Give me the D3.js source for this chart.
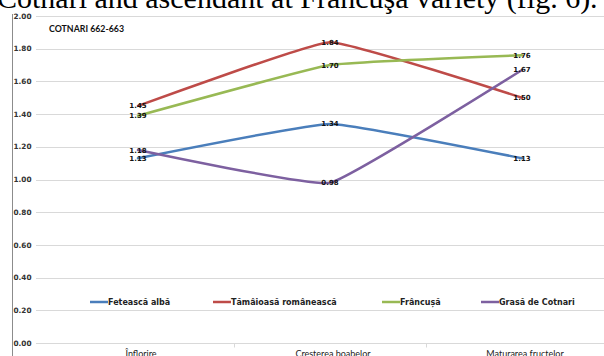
<!DOCTYPE html>
<html>
<head>
<meta charset="utf-8">
<script src="https://cdn.jsdelivr.net/npm/d3@7"></script>
<style>
  html, body { margin: 0; padding: 0; background: #fff; }
  svg { display: block; }
</style>
</head>
<body>
<svg id="chart" width="604" height="356"></svg>
<script>
// Growth stages (x categories)
const stages = ["Înflorire", "Cresterea boabelor", "Maturarea fructelor"];

// Series names and values per stage
const seriesNames = ["Fetească albă", "Tămâioasă românească", "Frâncușă", "Grasă de Cotnari"];
const feteascaAlba = [1.13, 1.34, 1.13];
const tamaioasa = [1.45, 1.84, 1.50];
const francusa = [1.39, 1.70, 1.76];
const grasa = [1.18, 0.98, 1.67];

// Y axis ticks
const yTicks = [0, 0.2, 0.4, 0.6, 0.8, 1.0, 1.2, 1.4, 1.6, 1.8, 2.0];

const colors = ["#4a7ebb", "#be4b48", "#98b954", "#7d60a0"];
const seriesValues = [feteascaAlba, tamaioasa, francusa, grasa];

const svg = d3.select("#chart");
const W = 604, H = 356;

// Caption line of the surrounding text, mostly above the visible area
svg.append("text")
  .attr("x", -3).attr("y", 8)
  .attr("font-family", "'Liberation Serif', 'Times New Roman', serif")
  .attr("font-size", 30)
  .attr("fill", "#000")
  .text("Cotnari and ascendant at Francuşa variety (fig. 6).");

// Chart frame (left edge)
svg.append("line")
  .attr("x1", 12.5).attr("x2", 12.5)
  .attr("y1", 14).attr("y2", H)
  .attr("stroke", "#8c8c8c").attr("stroke-width", 1);

const x = d3.scaleBand().domain(stages).range([42, 618]).padding(0);
const y = d3.scaleLinear().domain([0, 2]).range([343, 16]);

// Horizontal gridlines with small tick stubs
svg.append("g").selectAll("line")
  .data(yTicks.slice(1))
  .join("line")
  .attr("x1", 36).attr("x2", W)
  .attr("y1", d => Math.round(y(d)) + 0.5)
  .attr("y2", d => Math.round(y(d)) + 0.5)
  .attr("stroke", "#d9d9d9").attr("stroke-width", 1);

// Y axis labels
svg.append("g").selectAll("text")
  .data(yTicks)
  .join("text")
  .attr("x", 13.5)
  .attr("y", d => y(d) + 2.6)
  .attr("font-family", "'DejaVu Sans', Verdana, sans-serif")
  .attr("font-weight", "bold")
  .attr("font-size", 7.3)
  .attr("fill", "#333")
  .text(d => d.toFixed(2));

// X axis line with category dividers
const gx = svg.append("g").attr("transform", `translate(0,${Math.round(y(0)) + 0.5})`);
gx.append("line").attr("x1", 36).attr("x2", W).attr("stroke", "#d9d9d9");
gx.selectAll("line.div")
  .data(stages.slice(1))
  .join("line")
  .attr("class", "div")
  .attr("x1", d => Math.round(x(d)) + 0.5)
  .attr("x2", d => Math.round(x(d)) + 0.5)
  .attr("y1", 0).attr("y2", 4)
  .attr("stroke", "#d9d9d9");
gx.selectAll("text")
  .data(stages)
  .join("text")
  .attr("x", d => x(d) + x.bandwidth() / 2 + 3)
  .attr("y", 13)
  .attr("text-anchor", "middle")
  .attr("font-family", "Lato, 'Open Sans', sans-serif")
  .attr("font-size", 9)
  .attr("fill", "#222")
  .text(d => d);

// Chart title
svg.append("text")
  .attr("x", 49).attr("y", 32)
  .attr("font-family", "Lato, 'Open Sans', sans-serif")
  .attr("font-weight", "bold")
  .attr("font-size", 8.8)
  .attr("fill", "#111")
  .text("COTNARI 662-663");

// Lightly smoothed series lines
const line = d3.line()
  .x((d, i) => x(stages[i]) + x.bandwidth() / 2)
  .y(d => y(d))
  .curve(d3.curveCardinal.tension(0.7));

svg.append("g").selectAll("path")
  .data(seriesValues)
  .join("path")
  .attr("d", d => line(d))
  .attr("fill", "none")
  .attr("stroke", (d, i) => colors[i])
  .attr("stroke-width", 2.5)
  .attr("stroke-linecap", "round");

// Value labels centred on points
const labels = [];
seriesValues.forEach((vals, s) => vals.forEach((v, i) => labels.push({ s, i, v })));
svg.append("g").selectAll("text")
  .data(labels)
  .join("text")
  .attr("x", d => x(stages[d.i]) + x.bandwidth() / 2)
  .attr("y", d => y(d.v) + 2.5)
  .attr("text-anchor", "middle")
  .attr("font-family", "'DejaVu Sans', Verdana, sans-serif")
  .attr("font-weight", "bold")
  .attr("font-size", 7)
  .attr("fill", "#111")
  .text(d => d.v.toFixed(2));

// Legend
const legendX = [90, 213, 382, 481];
const lg = svg.append("g").attr("transform", "translate(0,302)");
const items = lg.selectAll("g").data(seriesNames).join("g")
  .attr("transform", (d, i) => `translate(${legendX[i]},0)`);
items.append("line")
  .attr("x1", 0).attr("x2", 18).attr("y1", 0).attr("y2", 0)
  .attr("stroke", (d, i) => colors[i]).attr("stroke-width", 2.5);
items.append("text")
  .attr("x", 18).attr("y", 3)
  .attr("font-family", "'DejaVu Sans', Verdana, sans-serif")
  .attr("font-weight", "bold")
  .attr("font-size", 8)
  .attr("fill", "#222")
  .text(d => d);
</script>
</body>
</html>
